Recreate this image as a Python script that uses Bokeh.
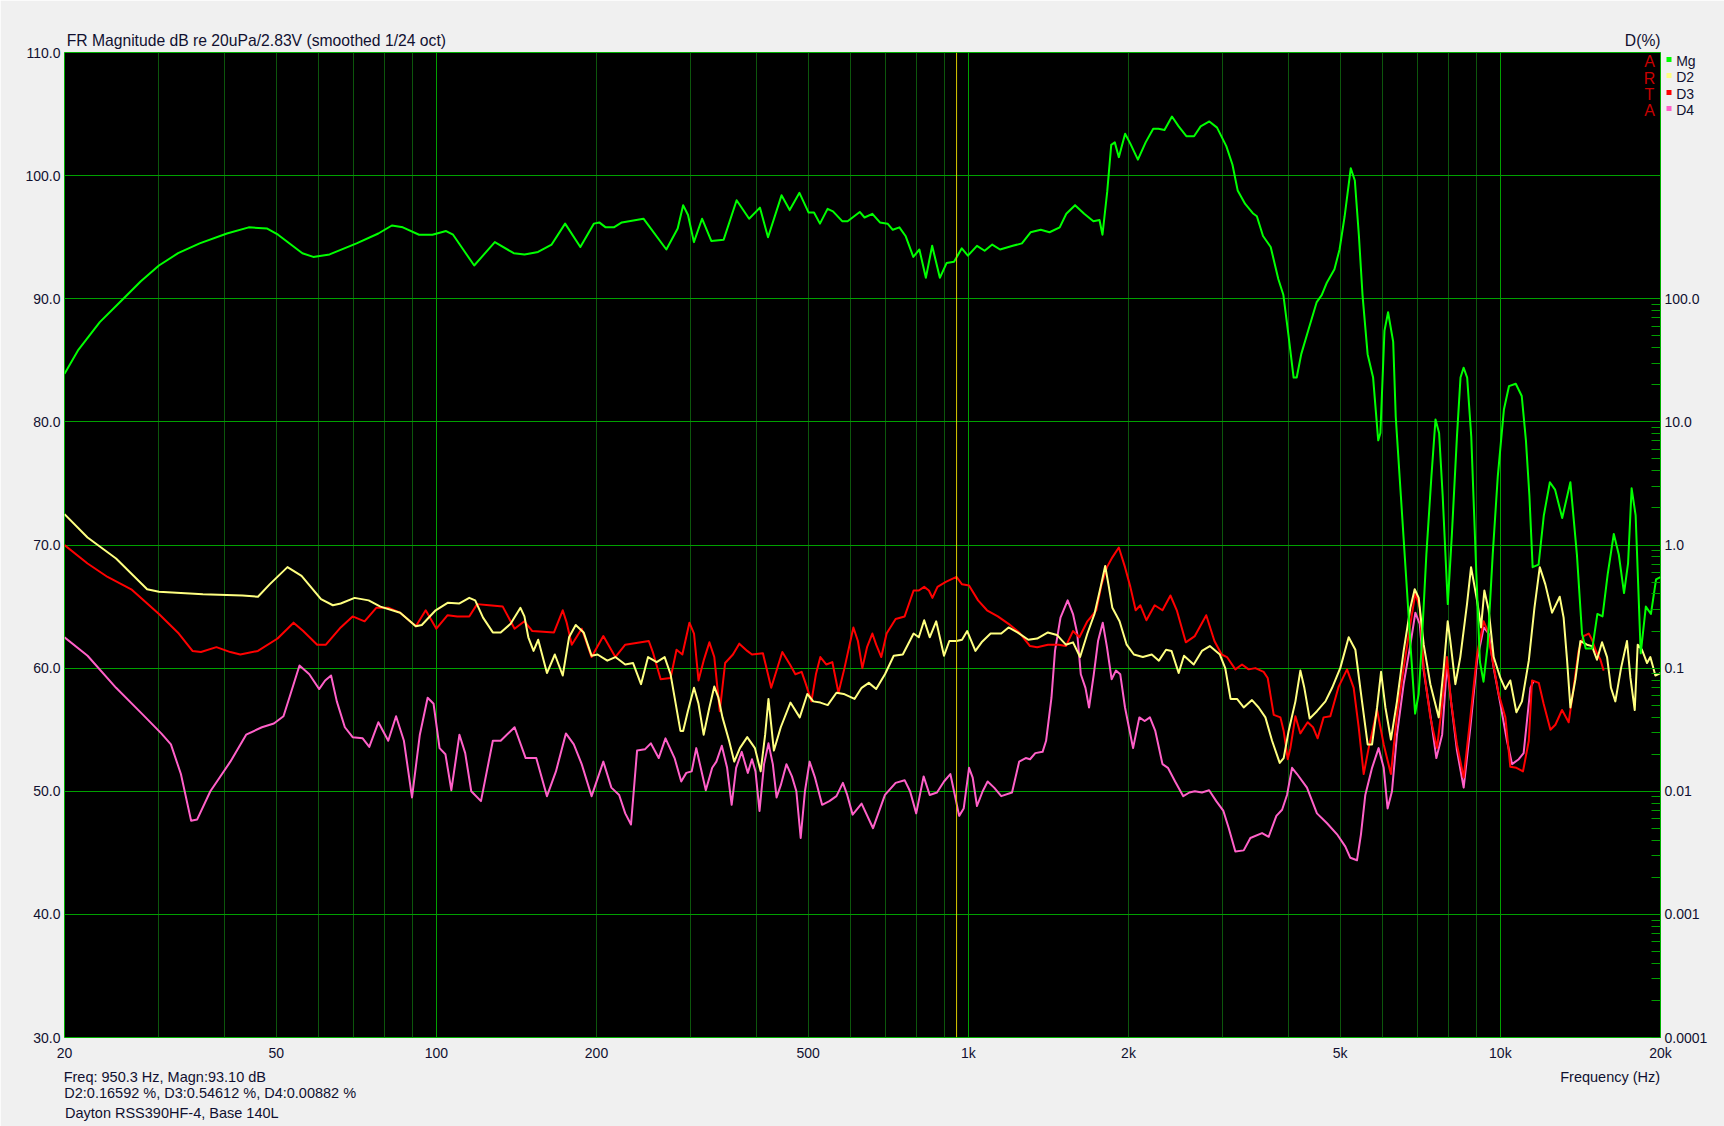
from bokeh.plotting import figure
from bokeh.models import (Range1d, LogAxis, FixedTicker, PrintfTickFormatter,
                          CustomJSTickFormatter, Span, LogScale)
from bokeh.core.properties import value
from bokeh.embed import file_html
from bokeh.resources import INLINE

# ---------------- data ----------------
# Magnitude response: (frequency Hz, dB)
mg_points = [
    (20.0, 83.9), (21.2, 85.8), (23.3, 88.1), (25.8, 90.0), (27.8, 91.4), (30.1, 92.7),
    (32.7, 93.7), (35.9, 94.5), (40.4, 95.3), (44.4, 95.8), (48.1, 95.7), (50.4, 95.2),
    (56.0, 93.7), (58.7, 93.4), (63.0, 93.6), (70.8, 94.5), (77.8, 95.3), (82.5, 95.95),
    (86.5, 95.8), (92.8, 95.2), (98.3, 95.2), (104.3, 95.5), (107.5, 95.2), (111.9, 94.1),
    (117.8, 92.7), (122.9, 93.6), (128.8, 94.6), (139.8, 93.7), (146.5, 93.6), (155.3, 93.8),
    (164.7, 94.4), (174.6, 96.1), (186.5, 94.2), (197.7, 96.1), (202.4, 96.2), (208.1, 95.8),
    (215.6, 95.8), (223.2, 96.2), (245.1, 96.5), (270.6, 94.0), (284.2, 95.7), (291.0, 97.6),
    (297.2, 96.8), (304.9, 94.6), (315.8, 96.5), (328.7, 94.7), (346.8, 94.8), (366.8, 98.0),
    (387.2, 96.5), (405.7, 97.4), (420.2, 95.0), (445.5, 98.4), (461.5, 97.2), (481.4, 98.6),
    (500.9, 97.0), (512.7, 97.0), (526.1, 96.1), (543.7, 97.3), (556.6, 97.1), (579.2, 96.3),
    (593.0, 96.3), (625, 97.05), (638, 96.6), (660, 96.9), (682, 96.2), (705, 96.1),
    (721, 95.6), (742, 95.8), (762, 95.1), (788, 93.4), (809, 94.0), (832, 91.7),
    (855, 94.3), (884, 91.7), (910, 92.9), (940, 93.0), (972, 94.1), (998, 93.5),
    (1038, 94.3), (1073, 93.9), (1109, 94.4), (1147, 94.0), (1212, 94.3), (1261, 94.5),
    (1309, 95.4), (1368, 95.6), (1421, 95.4), (1485, 95.8), (1528, 96.9), (1587, 97.6),
    (1651, 96.9), (1718, 96.3), (1764, 96.4), (1787, 95.2), (1824, 98.7), (1856, 102.5),
    (1885, 102.7), (1918, 101.5), (1971, 103.4), (2016, 102.6), (2083, 101.3), (2154, 102.7),
    (2226, 103.8), (2277, 103.8), (2337, 103.7), (2414, 104.8), (2485, 104.0), (2569, 103.2),
    (2656, 103.2), (2733, 104.0), (2838, 104.4), (2934, 103.9), (3054, 102.4), (3136, 100.9),
    (3208, 98.8), (3314, 97.7), (3425, 96.95), (3486, 96.7), (3580, 95.1), (3701, 94.2),
    (3825, 91.6), (3910, 90.3), (3998, 87.0), (4087, 83.6), (4142, 83.6), (4224, 85.5),
    (4366, 87.6), (4514, 89.7), (4615, 90.3), (4718, 91.3), (4877, 92.4), (4986, 94.0),
    (5097, 96.7), (5234, 100.6), (5327, 99.6), (5422, 95.1), (5507, 90.3), (5630, 85.5),
    (5765, 83.6), (5894, 78.5), (5950, 79.1), (6056, 87.4), (6151, 88.9), (6289, 86.5),
    (6359, 80.4), (6501, 74.0), (6646, 67.6), (6794, 61.2), (6915, 56.3), (7022, 57.9),
    (7100, 61.2), (7259, 69.2), (7421, 75.6), (7553, 80.2), (7671, 79.1), (7791, 74.0),
    (7965, 65.2), (8106, 70.8), (8287, 78.8), (8416, 83.6), (8529, 84.4), (8662, 83.6),
    (8817, 78.8), (9014, 67.6), (9155, 60.5), (9297, 58.9), (9463, 61.8), (9674, 69.2),
    (9890, 75.6), (10155, 81.0), (10380, 82.9), (10690, 83.1), (10970, 82.1), (11170, 78.5),
    (11340, 74.0), (11500, 68.2), (11800, 68.4), (12070, 72.4), (12390, 75.1), (12670, 74.5),
    (13070, 72.2), (13540, 75.1), (13930, 69.2), (14240, 62.8), (14470, 61.6), (14890, 61.6),
    (15220, 64.4), (15560, 64.2), (15910, 67.6), (16340, 70.9), (16700, 69.2), (17080, 66.1),
    (17380, 68.5), (17650, 74.6), (17960, 72.4), (18360, 61.2), (18770, 65.0), (19190, 64.4),
    (19620, 67.2), (20000, 67.4),
]

# 2nd harmonic distortion: (frequency Hz, %)
d2_points = [
    (20.0, 1.78), (22.1, 1.15), (25.0, 0.776), (28.6, 0.437), (30.1, 0.417), (36.4, 0.398),
    (43.2, 0.389), (46.2, 0.380), (48.6, 0.479), (52.5, 0.661), (55.8, 0.562), (60.7, 0.363),
    (63.9, 0.324), (66.1, 0.335), (70.2, 0.372), (74.6, 0.355), (78.5, 0.316), (85.5, 0.282),
    (91.5, 0.219), (93.9, 0.224), (99.7, 0.295), (105.0, 0.339), (110.5, 0.335), (115.3, 0.372),
    (118.3, 0.355), (122.4, 0.257), (127.7, 0.195), (132.1, 0.195), (137.9, 0.229), (143.9, 0.309),
    (146.4, 0.263), (148.9, 0.178), (152.3, 0.138), (155.4, 0.170), (161.4, 0.0912), (167.0, 0.129),
    (172.8, 0.0871), (177.6, 0.178), (182.8, 0.224), (189.2, 0.195), (195.8, 0.126), (200.9, 0.129),
    (209.6, 0.115), (217.0, 0.123), (226.5, 0.107), (234.3, 0.110), (242.5, 0.0741), (250.0, 0.123),
    (259.5, 0.112), (268.6, 0.123), (275.6, 0.0891), (287.6, 0.0309), (291, 0.0309), (297, 0.0447),
    (305, 0.0692), (311, 0.0513), (318, 0.0288), (326, 0.0479), (333, 0.0708), (339, 0.0575),
    (345, 0.0398), (355, 0.0257), (363, 0.0174), (372, 0.0224), (384, 0.0275), (397, 0.0224),
    (407, 0.0145), (415, 0.0288), (421, 0.0562), (431, 0.0214), (444, 0.0331), (463, 0.0525),
    (482, 0.0398), (498, 0.0617), (511, 0.0537), (527, 0.0525), (544, 0.0501), (565, 0.0631),
    (583, 0.0617), (611, 0.0562), (630, 0.0692), (650, 0.0759), (671, 0.0676), (697, 0.0891),
    (724, 0.126), (753, 0.129), (789, 0.191), (807, 0.178), (826, 0.245), (846, 0.178),
    (870, 0.240), (900, 0.126), (921, 0.166), (950, 0.166), (973, 0.170), (995, 0.200),
    (1031, 0.138), (1059, 0.162), (1101, 0.191), (1153, 0.191), (1190, 0.214), (1237, 0.195),
    (1296, 0.170), (1347, 0.174), (1411, 0.195), (1467, 0.186), (1525, 0.155), (1573, 0.162),
    (1622, 0.123), (1674, 0.191), (1726, 0.275), (1775, 0.468), (1808, 0.676), (1837, 0.457),
    (1865, 0.309), (1924, 0.240), (1984, 0.155), (2047, 0.129), (2128, 0.123), (2212, 0.129),
    (2281, 0.115), (2353, 0.141), (2409, 0.138), (2485, 0.0912), (2543, 0.126), (2652, 0.107),
    (2748, 0.138), (2844, 0.151), (2970, 0.129), (3040, 0.100), (3111, 0.0562), (3199, 0.0562),
    (3293, 0.0479), (3413, 0.0550), (3513, 0.0479), (3617, 0.0398), (3723, 0.0257), (3848, 0.0170),
    (3915, 0.0186), (4000, 0.0309), (4119, 0.0537), (4208, 0.0955), (4281, 0.0692), (4381, 0.0389),
    (4521, 0.0447), (4690, 0.0537), (4828, 0.0692), (5001, 0.100), (5187, 0.178), (5339, 0.141),
    (5495, 0.0537), (5631, 0.0240), (5739, 0.0240), (5865, 0.0479), (5967, 0.0933), (6080, 0.0479),
    (6227, 0.0263), (6393, 0.0537), (6580, 0.138), (6775, 0.309), (6902, 0.437), (7023, 0.372),
    (7177, 0.155), (7386, 0.0741), (7659, 0.0398), (7826, 0.100), (7962, 0.240), (8054, 0.166),
    (8231, 0.0741), (8409, 0.123), (8656, 0.331), (8809, 0.661), (9040, 0.355), (9198, 0.214),
    (9331, 0.427), (9508, 0.295), (9716, 0.123), (10000, 0.0832), (10220, 0.0676), (10440, 0.0794),
    (10720, 0.0437), (10980, 0.0537), (11310, 0.115), (11590, 0.309), (11860, 0.661), (12150, 0.479),
    (12510, 0.282), (12930, 0.380), (13150, 0.257), (13350, 0.115), (13540, 0.0479), (13840, 0.0813),
    (14140, 0.166), (14550, 0.155), (14870, 0.151), (15190, 0.117), (15530, 0.162), (15870, 0.123),
    (16140, 0.0692), (16450, 0.0537), (16860, 0.100), (17300, 0.166), (17560, 0.0832), (17890, 0.0457),
    (18120, 0.155), (18460, 0.141), (18870, 0.110), (19140, 0.123), (19560, 0.0871), (20000, 0.0912),
]

# 3rd harmonic distortion: (frequency Hz, %)
d3_points = [
    (20.0, 1.00), (22.1, 0.708), (24.1, 0.550), (26.7, 0.437), (30.1, 0.275), (32.8, 0.191),
    (34.8, 0.138), (36.1, 0.135), (38.6, 0.148), (41.0, 0.135), (42.8, 0.129), (46.2, 0.138),
    (50.3, 0.174), (53.9, 0.234), (56.2, 0.200), (59.7, 0.155), (62.0, 0.155), (66.1, 0.214),
    (69.6, 0.263), (73.3, 0.240), (77.1, 0.309), (81.2, 0.309), (85.5, 0.282), (91.5, 0.219),
    (95.5, 0.295), (100.0, 0.209), (105.0, 0.269), (109.5, 0.263), (115.3, 0.263), (119.3, 0.331),
    (125.6, 0.324), (133.3, 0.316), (140.3, 0.209), (146.4, 0.240), (151.5, 0.200), (166.4, 0.195),
    (172.8, 0.295), (175.8, 0.234), (179.7, 0.155), (187.6, 0.209), (195.8, 0.123), (206.0, 0.182),
    (217.0, 0.123), (226.5, 0.155), (250.8, 0.166), (255.2, 0.135), (264.0, 0.0813), (275.6, 0.0832),
    (282.8, 0.141), (290.0, 0.129), (299, 0.234), (305, 0.191), (311, 0.0794), (318, 0.115),
    (326, 0.162), (333, 0.123), (341, 0.0447), (349, 0.110), (361, 0.129), (371, 0.158),
    (384, 0.138), (392, 0.129), (411, 0.132), (426, 0.0692), (447, 0.135), (462, 0.107),
    (473, 0.0891), (486, 0.0933), (495, 0.0741), (507, 0.0537), (517, 0.0891), (527, 0.123),
    (541, 0.107), (555, 0.112), (570, 0.0631), (585, 0.100), (608, 0.214), (620, 0.166),
    (632, 0.100), (645, 0.148), (660, 0.191), (671, 0.155), (686, 0.123), (702, 0.191),
    (730, 0.251), (759, 0.263), (789, 0.427), (807, 0.427), (826, 0.457), (843, 0.427),
    (856, 0.372), (875, 0.457), (907, 0.501), (950, 0.550), (973, 0.479), (1003, 0.468),
    (1043, 0.355), (1084, 0.295), (1136, 0.263), (1190, 0.229), (1246, 0.195), (1306, 0.151),
    (1347, 0.148), (1411, 0.155), (1478, 0.155), (1525, 0.151), (1573, 0.200), (1617, 0.178),
    (1674, 0.240), (1740, 0.295), (1780, 0.479), (1822, 0.661), (1865, 0.794), (1918, 0.955),
    (1970, 0.661), (2016, 0.457), (2063, 0.295), (2105, 0.324), (2161, 0.245), (2240, 0.324),
    (2317, 0.295), (2398, 0.389), (2465, 0.295), (2563, 0.162), (2665, 0.182), (2800, 0.269),
    (2901, 0.166), (2993, 0.129), (3063, 0.123), (3176, 0.0977), (3269, 0.107), (3364, 0.0977),
    (3463, 0.100), (3590, 0.0933), (3653, 0.0832), (3750, 0.0417), (3860, 0.0398), (3915, 0.0309),
    (3984, 0.0182), (4030, 0.0224), (4119, 0.0407), (4208, 0.0295), (4343, 0.0363), (4445, 0.0331),
    (4535, 0.0269), (4654, 0.0398), (4791, 0.0407), (4967, 0.0708), (5150, 0.0977), (5300, 0.0692),
    (5416, 0.0331), (5535, 0.0138), (5655, 0.0224), (5865, 0.0457), (6036, 0.0240), (6227, 0.0138),
    (6393, 0.0417), (6580, 0.100), (6775, 0.229), (6922, 0.407), (7054, 0.309), (7177, 0.100),
    (7386, 0.0398), (7603, 0.0224), (7773, 0.0513), (7937, 0.123), (8077, 0.0537), (8288, 0.0240),
    (8532, 0.0129), (8783, 0.0398), (9040, 0.129), (9305, 0.240), (9467, 0.200), (9645, 0.123),
    (9928, 0.0617), (10220, 0.0398), (10440, 0.0158), (10720, 0.0155), (11030, 0.0145), (11310, 0.0257),
    (11470, 0.0794), (11810, 0.0759), (12060, 0.0513), (12420, 0.0316), (12690, 0.0347), (13060, 0.0457),
    (13440, 0.0363), (13730, 0.0692), (14030, 0.138), (14340, 0.182), (14660, 0.191), (14870, 0.170),
    (15150, 0.135), (15420, 0.117), (15640, 0.0955),
]

# 4th harmonic distortion: (frequency Hz, %)
d4_points = [
    (20.0, 0.178), (22.1, 0.126), (25.0, 0.0692), (28.1, 0.0417), (30.4, 0.0295), (31.7, 0.0240),
    (33.1, 0.0138), (34.6, 0.00575), (35.5, 0.00589), (37.6, 0.0100), (41.0, 0.0174), (43.9, 0.0288),
    (47.0, 0.0331), (49.5, 0.0355), (51.6, 0.0407), (53.2, 0.0617), (55.3, 0.105), (57.7, 0.0891),
    (60.2, 0.0676), (61.8, 0.0794), (63.4, 0.0871), (65.0, 0.0537), (67.3, 0.0331), (69.6, 0.0275),
    (72.7, 0.0269), (74.8, 0.0229), (77.8, 0.0363), (81.2, 0.0257), (84.0, 0.0407), (86.9, 0.0257),
    (90.0, 0.00891), (93.1, 0.0288), (96.3, 0.0575), (98.8, 0.0513), (101.4, 0.0224), (104.0, 0.0200),
    (106.7, 0.0102), (110.5, 0.0288), (113.3, 0.0204), (116.3, 0.0100), (121.3, 0.00832), (127.7, 0.0257),
    (132.1, 0.0257), (140.3, 0.0331), (147.2, 0.0186), (154.1, 0.0186), (161.4, 0.00912), (167.8, 0.0145),
    (175.2, 0.0295), (181.3, 0.0240), (187.6, 0.0166), (195.8, 0.00912), (206.0, 0.0174), (213.3, 0.0107),
    (220.6, 0.00933), (226.5, 0.00661), (232.2, 0.00537), (238.4, 0.0214), (246.6, 0.0219), (253.0, 0.0245),
    (261.8, 0.0186), (269.6, 0.0269), (280.4, 0.0186), (288.6, 0.0120), (295, 0.0141), (302, 0.0145),
    (308, 0.0224), (314, 0.0155), (321, 0.0102), (330, 0.0155), (336, 0.0174), (344, 0.0234),
    (352, 0.0155), (359, 0.00776), (366, 0.0155), (375, 0.0209), (385, 0.0141), (392, 0.0182),
    (398, 0.0145), (405, 0.00692), (413, 0.0166), (421, 0.0245), (429, 0.0166), (436, 0.00891),
    (444, 0.0112), (455, 0.0166), (466, 0.0132), (475, 0.0100), (484, 0.00417), (493, 0.0100),
    (503, 0.0174), (515, 0.0129), (531, 0.00776), (548, 0.00832), (565, 0.00912), (581, 0.0117),
    (592, 0.00933), (606, 0.00646), (630, 0.00794), (662, 0.00501), (697, 0.00933), (730, 0.0117),
    (759, 0.0123), (777, 0.0100), (798, 0.00661), (824, 0.0132), (846, 0.00933), (873, 0.00977),
    (900, 0.0120), (925, 0.0138), (943, 0.00933), (961, 0.00631), (980, 0.00724), (1003, 0.0155),
    (1019, 0.0129), (1038, 0.00759), (1064, 0.0100), (1087, 0.0120), (1118, 0.0107), (1153, 0.00912),
    (1208, 0.00977), (1246, 0.0174), (1282, 0.0186), (1306, 0.0182), (1336, 0.0204), (1379, 0.0209),
    (1400, 0.0257), (1433, 0.0575), (1455, 0.138), (1490, 0.257), (1537, 0.355), (1573, 0.275),
    (1602, 0.191), (1627, 0.0891), (1660, 0.0692), (1686, 0.0479), (1721, 0.0891), (1753, 0.166),
    (1789, 0.234), (1822, 0.148), (1859, 0.0813), (1894, 0.0955), (1930, 0.0891), (1970, 0.0479),
    (2040, 0.0224), (2096, 0.0398), (2145, 0.0372), (2194, 0.0398), (2246, 0.0309), (2317, 0.0166),
    (2372, 0.0155), (2447, 0.0120), (2535, 0.00912), (2603, 0.00977), (2665, 0.0100), (2748, 0.00977),
    (2835, 0.0102), (2924, 0.00832), (3016, 0.00692), (3087, 0.00501), (3176, 0.00324), (3293, 0.00331),
    (3389, 0.00417), (3565, 0.00457), (3669, 0.00427), (3793, 0.00631), (3888, 0.00708), (3972, 0.00933),
    (4059, 0.0155), (4148, 0.0138), (4330, 0.0107), (4521, 0.00661), (4723, 0.00550), (4932, 0.00447),
    (5113, 0.00355), (5224, 0.00288), (5377, 0.00275), (5470, 0.00447), (5574, 0.00933), (5739, 0.0155),
    (5904, 0.0224), (6036, 0.0155), (6138, 0.00724), (6256, 0.0100), (6393, 0.0288), (6580, 0.0741),
    (6775, 0.155), (6922, 0.282), (7054, 0.229), (7177, 0.0955), (7386, 0.0417), (7581, 0.0186),
    (7773, 0.0288), (7937, 0.107), (8077, 0.0537), (8288, 0.0214), (8532, 0.0107), (8783, 0.0331),
    (9040, 0.115), (9305, 0.214), (9508, 0.191), (9716, 0.100), (10000, 0.0513), (10290, 0.0257),
    (10520, 0.0166), (10830, 0.0182), (11060, 0.0204), (11220, 0.0372), (11390, 0.0692), (11560, 0.0794),
]

x_tick_values = [20, 50, 100, 200, 500, 1000, 2000, 5000, 10000, 20000]
db_tick_values = [30, 40, 50, 60, 70, 80, 90, 100, 110]
pct_tick_values = [0.0001, 0.001, 0.01, 0.1, 1, 10, 100]
cursor_freq = 950.3

title_text = "FR Magnitude dB re 20uPa/2.83V (smoothed 1/24 oct)"
right_title = "D(%)"
x_title = "Frequency (Hz)"
info_lines = ["Freq: 950.3 Hz, Magn:93.10 dB",
              "D2:0.16592 %, D3:0.54612 %, D4:0.00882 %",
              "Dayton RSS390HF-4, Base 140L"]
legend_names = ["Mg", "D2", "D3", "D4"]
brand_letters = ["A", "R", "T", "A"]

# ---------------- styling ----------------
FONT = "Liberation Sans"
TXT = "#101030"
C_MG, C_D2, C_D3, C_D4 = "#00ff00", "#ffff80", "#ff0000", "#ff60c8"
GRID_MAJ = "#00a000"
GRID_MIN = "#0c560c"
BG = "#f0f0f0"

# canvas-pixel helpers (plot frame: x 64..1660, y 52..1037)
def fx(px):
    return 20 * 10 ** ((px - 64) / 532.0)

def dy(py):
    return 110 - (py - 52) / (985 / 80.0)

def pct_at(py):
    return 10000 * 10 ** (-(py - 52) / (985 / 8.0))

p = figure(width=1724, height=1126, x_axis_type="log",
           x_range=Range1d(20, 20000), y_range=Range1d(30, 110),
           output_backend="svg", toolbar_location=None,
           min_border_left=64, min_border_right=64, min_border_top=52, min_border_bottom=89,
           background_fill_color="black", border_fill_color=BG,
           outline_line_color="#00b000", outline_line_width=1)


def style_axis(ax, standoff, size="14px"):
    ax.major_tick_in = 0
    ax.major_tick_out = 0
    ax.minor_tick_in = 0
    ax.minor_tick_out = 0
    ax.axis_line_color = None
    ax.major_label_standoff = standoff
    ax.major_label_text_font = FONT
    ax.major_label_text_font_size = size
    ax.major_label_text_color = TXT


# bottom axis (frequency ticks)
xa = p.xaxis[0]
xa.ticker = FixedTicker(ticks=x_tick_values)
xa.formatter = CustomJSTickFormatter(code="return tick >= 1000 ? (tick/1000) + 'k' : String(tick);")
style_axis(xa, 7)

# left axis (dB)
ya = p.yaxis[0]
ya.ticker = FixedTicker(ticks=db_tick_values)
ya.formatter = PrintfTickFormatter(format="%.1f")
style_axis(ya, 4)

# right side: distortion (%) log scale
p.extra_y_ranges = {"pct": Range1d(0.0001, 10000)}
p.extra_y_scales = {"pct": LogScale()}

# legend colour squares, drawn as short thick ticks just right of the frame
square_rows = [58.5, 75, 91.5, 108]
square_colors = [C_MG, C_D2, C_D3, C_D4]
for i, (row, col) in enumerate(zip(square_rows, square_colors)):
    sq = LogAxis(y_range_name="pct", ticker=FixedTicker(ticks=[pct_at(row)]),
                 formatter=CustomJSTickFormatter(code="return '';"))
    style_axis(sq, 0, size="0px")
    if i == 0:
        sq.major_tick_in = -11
        sq.major_tick_out = 6
    else:
        sq.major_tick_in = -5
        sq.major_tick_out = 0
    sq.major_tick_line_width = 5
    sq.major_tick_line_color = col
    sq.major_tick_line_cap = "butt"
    p.add_layout(sq, "right")

pct_minor = [k * d for d in [0.0001, 0.001, 0.01, 0.1, 1, 10] for k in range(1, 10)] + [100]
legend_rows = [60, 76.5, 93, 109.5]
ra = LogAxis(y_range_name="pct",
             ticker=FixedTicker(ticks=pct_tick_values + [pct_at(r) for r in legend_rows],
                                minor_ticks=pct_minor),
             formatter=CustomJSTickFormatter(args=dict(names=legend_names), code="""
                 const pad = "\\u2002\\u2004";
                 if (tick > 7000) { return pad + names[0]; }
                 if (tick > 5500) { return pad + names[1]; }
                 if (tick > 4000) { return pad + names[2]; }
                 if (tick > 2000) { return pad + names[3]; }
                 if (tick >= 1) { return tick.toFixed(1); }
                 return String(parseFloat(tick.toPrecision(1)));
             """))
style_axis(ra, -2)
ra.minor_tick_in = 15
ra.minor_tick_out = -6
ra.minor_tick_line_color = GRID_MAJ
p.add_layout(ra, "right")

# top axis carrying the title and the D(%) caption
ta = LogAxis(ticker=FixedTicker(ticks=[fx(255.8), fx(1642.2)]),
             formatter=CustomJSTickFormatter(args=dict(a=title_text, b=right_title),
                                             code="return tick < 1000 ? a : b;"))
style_axis(ta, 4, size="15.7px")
p.add_layout(ta, "above")

# extra bottom rows: info lines and x title
row1 = LogAxis(ticker=FixedTicker(ticks=[fx(164.3), fx(1609.7)]),
               formatter=CustomJSTickFormatter(args=dict(a=info_lines[0], b=x_title),
                                               code="return tick < 1000 ? a : b;"))
style_axis(row1, 5, size="14.5px")
p.add_layout(row1, "below")
row2 = LogAxis(ticker=FixedTicker(ticks=[fx(209.7)]),
               formatter=CustomJSTickFormatter(args=dict(a=info_lines[1]), code="return a;"))
style_axis(row2, -3, size="14.5px")
p.add_layout(row2, "below")
row3 = LogAxis(ticker=FixedTicker(ticks=[fx(171.3)]),
               formatter=CustomJSTickFormatter(args=dict(a=info_lines[2]), code="return a;"))
style_axis(row3, 1, size="14.5px")
p.add_layout(row3, "below")

# grids
x_minor_grid = [k * d for d in [10, 100, 1000] for k in range(2, 10)] + [20000]
p.xgrid.ticker = FixedTicker(ticks=[100, 1000, 10000], minor_ticks=x_minor_grid)
p.xgrid.grid_line_color = GRID_MAJ
p.xgrid.minor_grid_line_color = GRID_MIN
p.ygrid.ticker = FixedTicker(ticks=db_tick_values[1:-1])
p.ygrid.grid_line_color = GRID_MAJ

# cursor
p.add_layout(Span(location=cursor_freq, dimension="height", line_color="#d8c800", line_width=1))

# curves
def unzip(pts):
    return [a for a, _ in pts], [b for _, b in pts]

f4, v4 = unzip(d4_points)
f3, v3 = unzip(d3_points)
f2, v2 = unzip(d2_points)
fm, vm = unzip(mg_points)
p.line(f4, v4, y_range_name="pct", line_color=C_D4, line_width=2, line_join="round")
p.line(f3, v3, y_range_name="pct", line_color=C_D3, line_width=2, line_join="round")
p.line(f2, v2, y_range_name="pct", line_color=C_D2, line_width=2, line_join="round")
p.line(fm, vm, line_color=C_MG, line_width=2, line_join="round")

# ARTA mark inside the frame (top right)
p.text(x=[fx(1649)] * 4, y=[dy(r) for r in [61, 77.5, 93.5, 109.5]], text=brand_letters,
       text_color="#c80000", text_font=value(FONT), text_font_size=value("16px"),
       text_align="center", text_baseline="middle")

open("out.html", "w").write(file_html(p, INLINE))
